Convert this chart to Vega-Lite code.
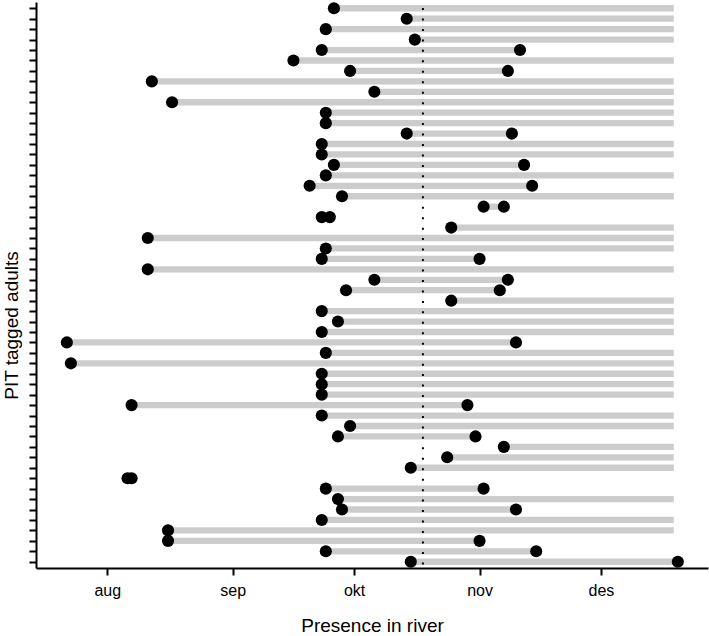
{
  "$schema": "https://vega.github.io/schema/vega-lite/v6.json",
  "width": 672,
  "height": 566,
  "autosize": {"type": "none"},
  "padding": {"left": 36, "top": 2, "right": 1, "bottom": 68},
  "background": "white",
  "config": {
    "view": {"stroke": null},
    "font": "Liberation Sans",
    "axis": {
      "domainColor": "black",
      "tickColor": "black",
      "labelColor": "black",
      "titleColor": "black",
      "titleFontWeight": "normal",
      "grid": false,
      "domainWidth": 2,
      "tickWidth": 2,
      "tickSize": 7,
      "labelFont": "Liberation Sans",
      "titleFont": "Liberation Sans"
    }
  },
  "data": {
    "values": [
      {"id": 1, "first": "2013-09-26", "last": null, "end": "2013-12-19"},
      {"id": 2, "first": "2013-10-14", "last": null, "end": "2013-12-19"},
      {"id": 3, "first": "2013-09-24", "last": null, "end": "2013-12-19"},
      {"id": 4, "first": "2013-10-16", "last": null, "end": "2013-12-19"},
      {"id": 5, "first": "2013-09-23", "last": "2013-11-11", "end": "2013-11-11"},
      {"id": 6, "first": "2013-09-16", "last": null, "end": "2013-12-19"},
      {"id": 7, "first": "2013-09-30", "last": "2013-11-08", "end": "2013-11-08"},
      {"id": 8, "first": "2013-08-12", "last": null, "end": "2013-12-19"},
      {"id": 9, "first": "2013-10-06", "last": null, "end": "2013-12-19"},
      {"id": 10, "first": "2013-08-17", "last": null, "end": "2013-12-19"},
      {"id": 11, "first": "2013-09-24", "last": null, "end": "2013-12-19"},
      {"id": 12, "first": "2013-09-24", "last": null, "end": "2013-12-19"},
      {"id": 13, "first": "2013-10-14", "last": "2013-11-09", "end": "2013-11-09"},
      {"id": 14, "first": "2013-09-23", "last": null, "end": "2013-12-19"},
      {"id": 15, "first": "2013-09-23", "last": null, "end": "2013-12-19"},
      {"id": 16, "first": "2013-09-26", "last": "2013-11-12", "end": "2013-11-12"},
      {"id": 17, "first": "2013-09-24", "last": null, "end": "2013-12-19"},
      {"id": 18, "first": "2013-09-20", "last": "2013-11-14", "end": "2013-11-14"},
      {"id": 19, "first": "2013-09-28", "last": null, "end": "2013-12-19"},
      {"id": 20, "first": "2013-11-02", "last": "2013-11-07", "end": "2013-11-07"},
      {"id": 21, "first": "2013-09-23", "last": "2013-09-25", "end": "2013-09-25"},
      {"id": 22, "first": "2013-10-25", "last": null, "end": "2013-12-19"},
      {"id": 23, "first": "2013-08-11", "last": null, "end": "2013-12-19"},
      {"id": 24, "first": "2013-09-24", "last": null, "end": "2013-12-19"},
      {"id": 25, "first": "2013-09-23", "last": "2013-11-01", "end": "2013-11-01"},
      {"id": 26, "first": "2013-08-11", "last": null, "end": "2013-12-19"},
      {"id": 27, "first": "2013-10-06", "last": "2013-11-08", "end": "2013-11-08"},
      {"id": 28, "first": "2013-09-29", "last": "2013-11-06", "end": "2013-11-06"},
      {"id": 29, "first": "2013-10-25", "last": null, "end": "2013-12-19"},
      {"id": 30, "first": "2013-09-23", "last": null, "end": "2013-12-19"},
      {"id": 31, "first": "2013-09-27", "last": null, "end": "2013-12-19"},
      {"id": 32, "first": "2013-09-23", "last": null, "end": "2013-12-19"},
      {"id": 33, "first": "2013-07-22", "last": "2013-11-10", "end": "2013-11-10"},
      {"id": 34, "first": "2013-09-24", "last": null, "end": "2013-12-19"},
      {"id": 35, "first": "2013-07-23", "last": null, "end": "2013-12-19"},
      {"id": 36, "first": "2013-09-23", "last": null, "end": "2013-12-19"},
      {"id": 37, "first": "2013-09-23", "last": null, "end": "2013-12-19"},
      {"id": 38, "first": "2013-09-23", "last": null, "end": "2013-12-19"},
      {"id": 39, "first": "2013-08-07", "last": "2013-10-29", "end": "2013-10-29"},
      {"id": 40, "first": "2013-09-23", "last": null, "end": "2013-12-19"},
      {"id": 41, "first": "2013-09-30", "last": null, "end": "2013-12-19"},
      {"id": 42, "first": "2013-09-27", "last": "2013-10-31", "end": "2013-10-31"},
      {"id": 43, "first": "2013-11-07", "last": null, "end": "2013-12-19"},
      {"id": 44, "first": "2013-10-24", "last": null, "end": "2013-12-19"},
      {"id": 45, "first": "2013-10-15", "last": null, "end": "2013-12-19"},
      {"id": 46, "first": "2013-08-06", "last": "2013-08-07", "end": "2013-08-07"},
      {"id": 47, "first": "2013-09-24", "last": "2013-11-02", "end": "2013-11-02"},
      {"id": 48, "first": "2013-09-27", "last": null, "end": "2013-12-19"},
      {"id": 49, "first": "2013-09-28", "last": "2013-11-10", "end": "2013-11-10"},
      {"id": 50, "first": "2013-09-23", "last": null, "end": "2013-12-19"},
      {"id": 51, "first": "2013-08-16", "last": null, "end": "2013-12-19"},
      {"id": 52, "first": "2013-08-16", "last": "2013-11-01", "end": "2013-11-01"},
      {"id": 53, "first": "2013-09-24", "last": "2013-11-15", "end": "2013-11-15"},
      {"id": 54, "first": "2013-10-15", "last": "2013-12-20", "end": "2013-12-20"}
    ]
  },
  "layer": [
    {
      "mark": {"type": "rule", "color": "#cccccc", "strokeWidth": 6.3, "strokeCap": "butt"},
      "encoding": {
        "x": {
          "field": "first", "type": "temporal", "title": "Presence in river",
          "scale": {"type": "utc", "nice": false, "domain": [{"year": 2013, "month": 7, "date": 14, "hours": 9, "utc": true}, {"year": 2013, "month": 12, "date": 27, "hours": 11, "utc": true}]},
          "axis": {
            "values": [{"year": 2013, "month": 8, "date": 1, "utc": true}, {"year": 2013, "month": 9, "date": 1, "utc": true}, {"year": 2013, "month": 10, "date": 1, "utc": true}, {"year": 2013, "month": 11, "date": 1, "utc": true}, {"year": 2013, "month": 12, "date": 1, "utc": true}],
            "labelExpr": "['jan','feb','mar','apr','mai','jun','jul','aug','sep','okt','nov','des'][utcmonth(datum.value)]",
            "labelFontSize": 16, "labelBaseline": "alphabetic", "labelPadding": 20, "labelFlush": false, "labelOverlap": false,
            "titleFontSize": 19, "titleBaseline": "alphabetic", "titleY": 63
          }
        },
        "x2": {"field": "end"},
        "y": {
          "field": "id", "type": "ordinal",
          "scale": {"type": "point", "padding": 0.6},
          "axis": {"labels": false, "title": "PIT tagged adults", "titleFontSize": 19, "titleX": -19, "titleY": 323, "titleAngle": -90, "titleBaseline": "alphabetic", "titleAlign": "center"}
        }
      }
    },
    {
      "data": {"values": [{"cutoff": "2013-10-18"}]},
      "mark": {"type": "rule", "color": "black", "strokeWidth": 2, "strokeDash": [2, 8.46], "strokeDashOffset": 4.46},
      "encoding": {
        "x": {
          "field": "cutoff", "type": "temporal", "title": "Presence in river",
          "scale": {"type": "utc", "nice": false, "domain": [{"year": 2013, "month": 7, "date": 14, "hours": 9, "utc": true}, {"year": 2013, "month": 12, "date": 27, "hours": 11, "utc": true}]}
        }
      }
    },
    {
      "mark": {"type": "circle", "size": 147, "color": "black", "opacity": 1},
      "encoding": {
        "x": {"field": "first", "type": "temporal", "title": "Presence in river"},
        "y": {"field": "id", "type": "ordinal"}
      }
    },
    {
      "transform": [{"filter": "datum.last != null"}],
      "mark": {"type": "circle", "size": 147, "color": "black", "opacity": 1},
      "encoding": {
        "x": {"field": "last", "type": "temporal", "title": "Presence in river"},
        "y": {"field": "id", "type": "ordinal"}
      }
    }
  ]
}
